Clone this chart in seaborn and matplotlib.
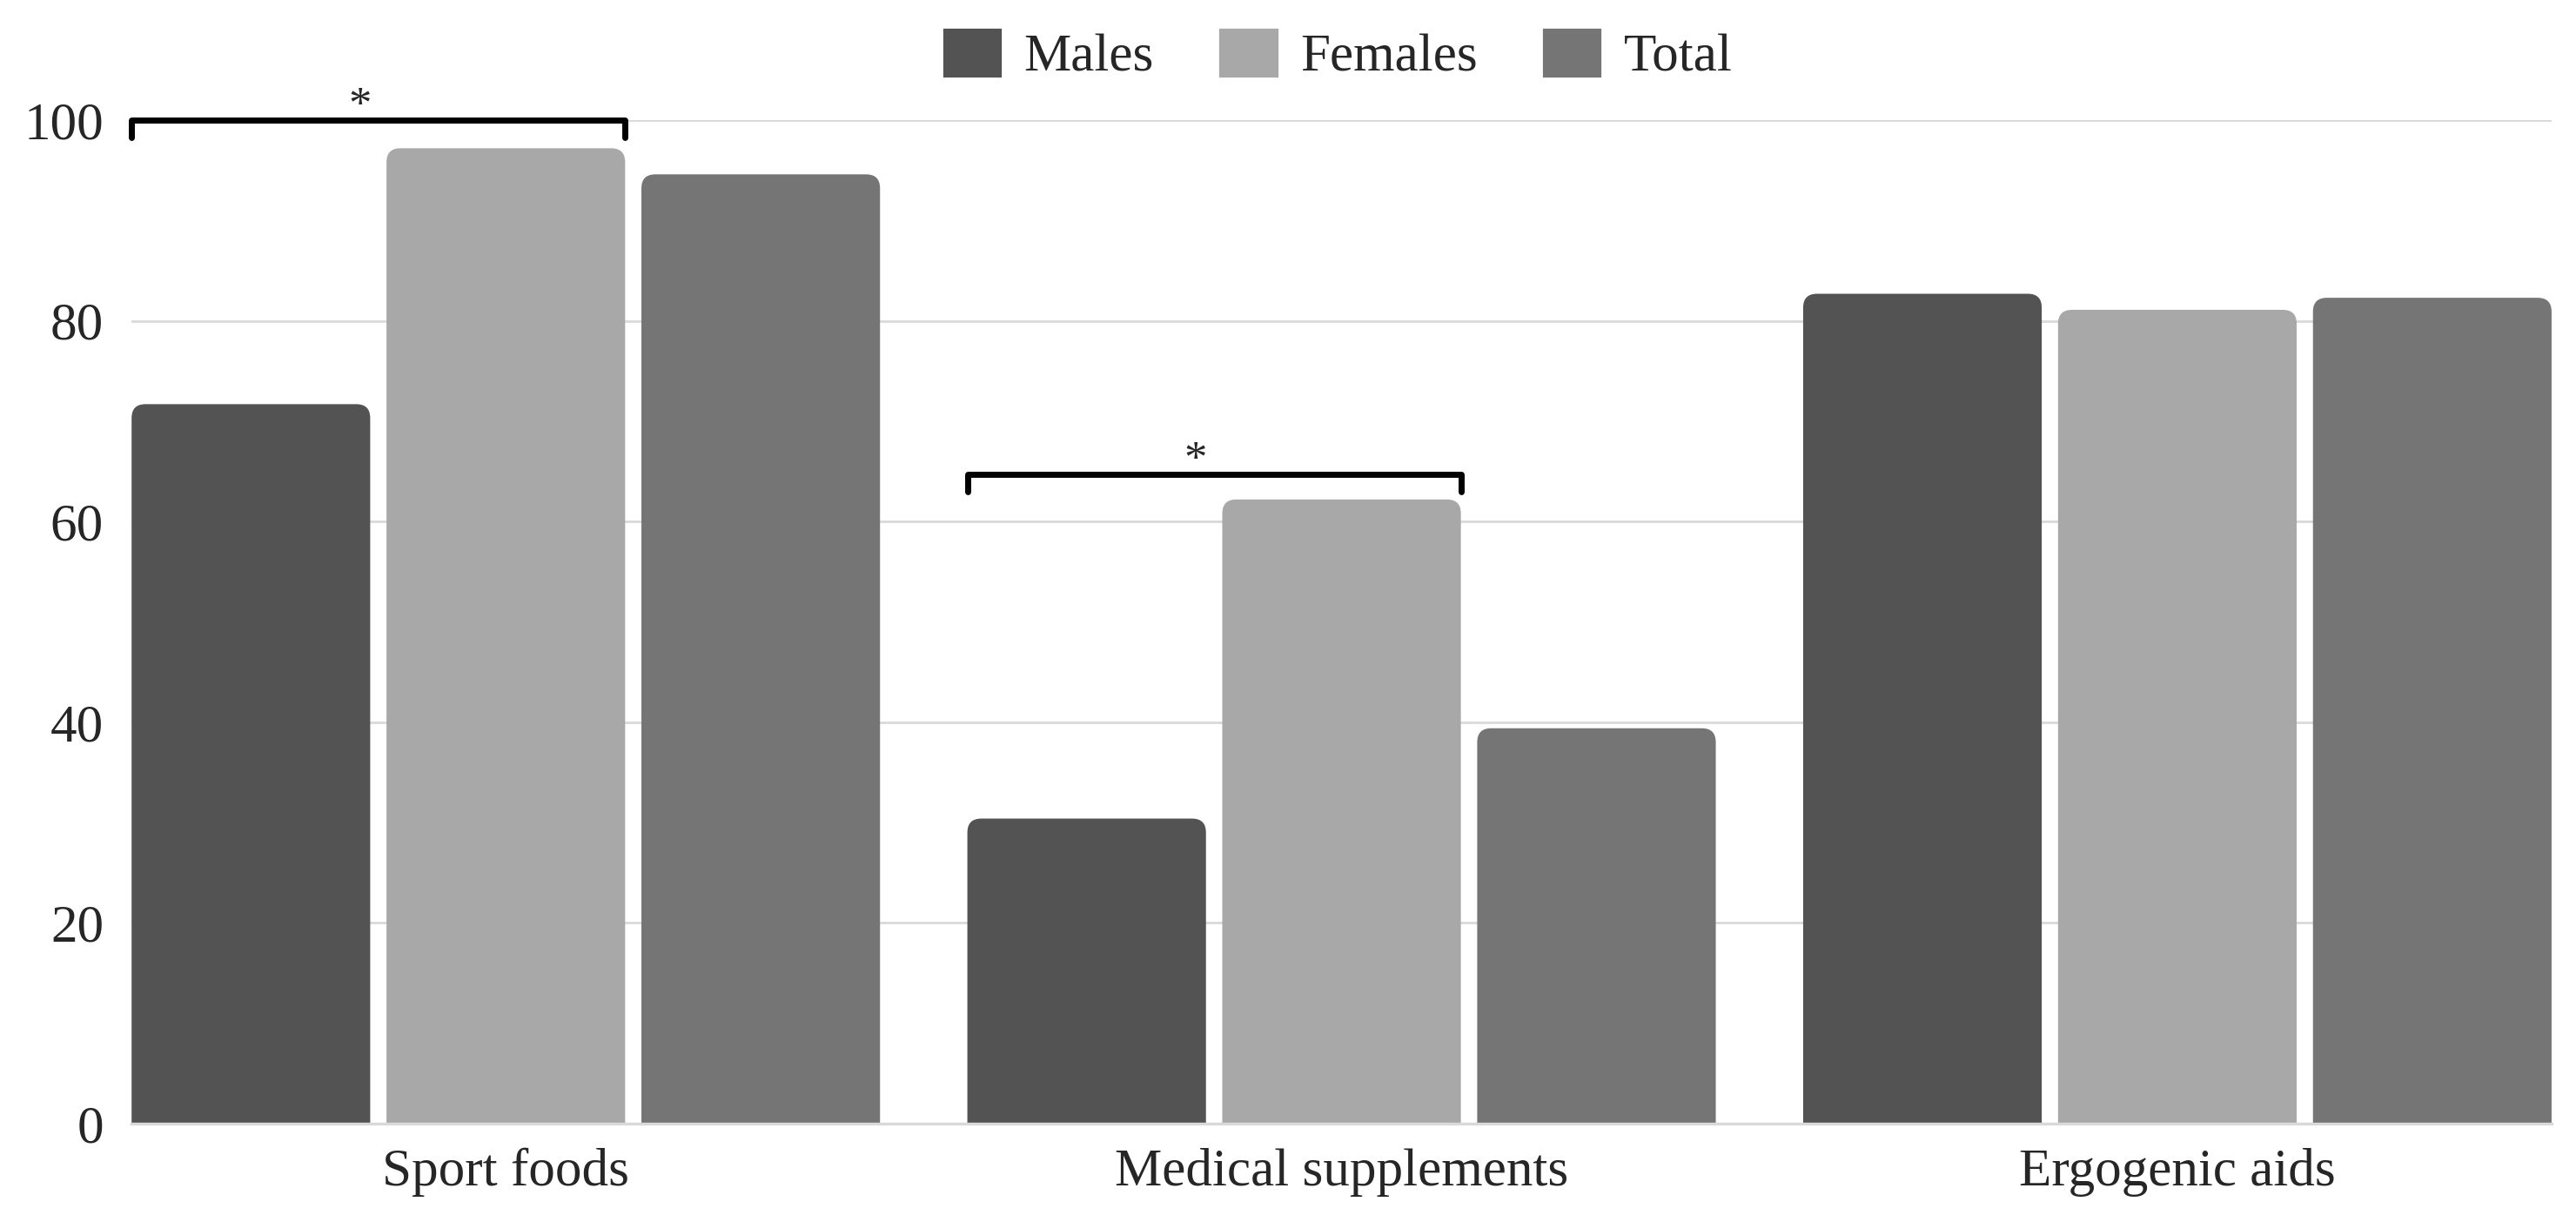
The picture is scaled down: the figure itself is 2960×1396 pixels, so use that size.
import pandas as pd
import matplotlib.pyplot as plt
import seaborn as sns
from matplotlib.patches import FancyBboxPatch

# chart values
categories = ["Sport foods", "Medical supplements", "Ergogenic aids"]
groups = ["Males", "Females", "Total"]
males = [71.7, 30.4, 82.7]
females = [97.2, 62.2, 81.1]
total = [94.6, 39.4, 82.3]
y_ticks = [0, 20, 40, 60, 80, 100]

# significance brackets (category index, bracket height)
sig_categories = [0, 1]
sig_heights = [100, 64.7]

colors = ["#535353", "#a8a8a8", "#757575"]

# long form table for seaborn
df = pd.DataFrame(
    {
        "category": categories * 3,
        "group": [g for g in groups for _ in categories],
        "value": males + females + total,
    }
)

sns.set_style("white")
plt.rcParams["font.family"] = ["Liberation Serif", "DejaVu Serif"]

fig = plt.figure(figsize=(14.8, 6.98), dpi=200)
ax = fig.add_axes([0.051, 0.0752, 0.9396, 0.8259])

sns.barplot(
    data=df,
    x="category",
    y="value",
    hue="group",
    hue_order=groups,
    order=categories,
    palette=colors,
    width=0.915,
    gap=0.064,
    saturation=1,
    ax=ax,
)

ax.set_xlim(-0.448, 2.448)
ax.set_ylim(0, 100)
ax.set_yticks(y_ticks)
ax.set_xlabel("")
ax.set_ylabel("")
ax.tick_params(axis="y", length=0, labelsize=22, pad=11.5)
ax.tick_params(axis="x", length=0, labelsize=22, pad=10)

# light grid, no frame except a light baseline
ax.yaxis.grid(True, color="#d9d9d9", linewidth=1.0)
ax.set_axisbelow(True)
for side in ["left", "top", "right"]:
    ax.spines[side].set_visible(False)
ax.spines["bottom"].set_color("#d9d9d9")
ax.spines["bottom"].set_linewidth(1.2)

# swap the bars for ones with rounded top corners
fig.canvas.draw()
px = ax.transData.transform((1, 0))[0] - ax.transData.transform((0, 0))[0]
py = ax.transData.transform((0, 1))[1] - ax.transData.transform((0, 0))[1]
radius_px = 16
aspect = px / py
for container in ax.containers:
    for bar in container:
        x, w, h = bar.get_x(), bar.get_width(), bar.get_height()
        ext = 5
        rounded = FancyBboxPatch(
            (x, -ext),
            w,
            h + ext,
            boxstyle=f"round,pad=0,rounding_size={radius_px / px}",
            mutation_aspect=aspect,
            facecolor=bar.get_facecolor(),
            edgecolor="none",
            zorder=2,
        )
        ax.add_patch(rounded)
        bar.set_visible(False)

# significance brackets between males and females
drop = 1.7
for idx, height in zip(sig_categories, sig_heights):
    left_bar = ax.containers[0][idx]
    right_bar = ax.containers[1][idx]
    x0 = left_bar.get_x()
    x1 = right_bar.get_x() + right_bar.get_width()
    ax.plot(
        [x0, x0, x1, x1],
        [height - drop, height, height, height - drop],
        color="black",
        linewidth=2.5,
        clip_on=False,
        zorder=3,
    )
    ax.text(
        (x0 + x1) / 2 - 0.022,
        height + 0.2,
        "*",
        ha="center",
        va="baseline",
        fontsize=19,
        clip_on=False,
    )

sns.move_legend(
    ax,
    "center",
    bbox_to_anchor=(0.519, 0.955),
    bbox_transform=fig.transFigure,
    ncol=3,
    frameon=False,
    title=None,
    fontsize=22,
    handlelength=1.15,
    handleheight=1.1,
    handletextpad=0.4,
    columnspacing=1.2,
)

fig.savefig("out.png", dpi=200)
